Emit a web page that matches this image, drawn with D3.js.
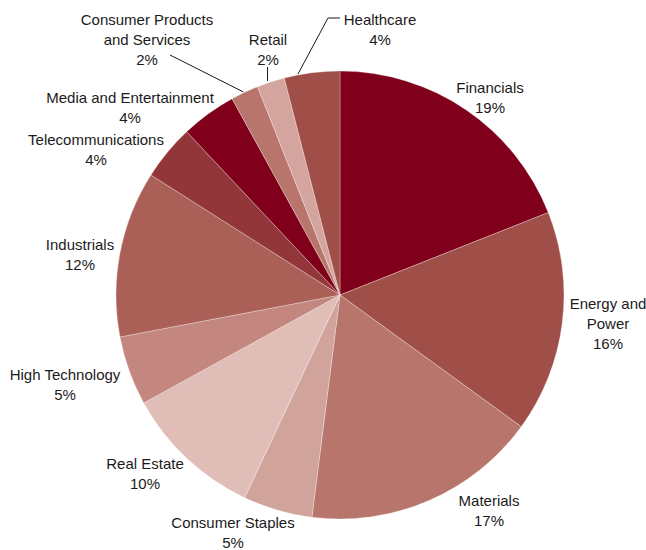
<!DOCTYPE html>
<html>
<head>
    <title>Sector Breakdown</title>
    <script src="https://d3js.org/d3.v7.min.js"></script>
    <style>
        body {
            margin: 0;
            padding: 0;
            background-color: #ffffff;
        }
        .lbl {
            font-family: "Liberation Sans", Arial, Helvetica, sans-serif;
            font-size: 15px;
            fill: #1c1a1a;
        }
    </style>
</head>
<body>
<div class="viz"></div>
<script>
    // Data
    var sectors = ["Financials", "Energy and Power", "Materials", "Consumer Staples",
                   "Real Estate", "High Technology", "Industrials", "Telecommunications",
                   "Media and Entertainment", "Consumer Products and Services", "Retail", "Healthcare"];
    var shares = [19, 16, 17, 5, 10, 5, 12, 4, 4, 2, 2, 4];
    var labelLines = [["Financials"], ["Energy and", "Power"], ["Materials"], ["Consumer Staples"],
                      ["Real Estate"], ["High Technology"], ["Industrials"], ["Telecommunications"],
                      ["Media and Entertainment"], ["Consumer Products", "and Services"], ["Retail"], ["Healthcare"]];

    var colors = ["#80001c", "#a04e48", "#b8756c", "#d0a39b", "#e0bdb6", "#c4877f",
                  "#ab6057", "#923639", "#80001c", "#b8756c", "#d4a59e", "#a04e48"];

    var width = 646,
        height = 550;
    var cx = 340, cy = 295, radius = 224;

    // label anchor (centre x, first baseline y), relative to pie centre
    var labelAt = [[150, -202], [268, 14], [149, 211], [-107, 233], [-195, 174], [-275, 85],
                   [-260, -45], [-244, -150], [-210, -192], [-193, -270], [-72, -250], [40, -270]];

    var svg = d3.select(".viz").append("svg")
        .attr("width", width)
        .attr("height", height);

    var g = svg.append("g")
        .attr("transform", "translate(" + cx + "," + cy + ")");

    var pie = d3.pie().sort(null).value(function(d){ return d; });
    var arcs = pie(shares);

    var arc = d3.arc().innerRadius(0).outerRadius(radius);

    g.selectAll("path")
        .data(arcs)
        .enter()
        .append("path")
        .attr("d", arc)
        .attr("fill", function(d, i){ return colors[i]; })
        .attr("stroke", "#ffffff")
        .attr("stroke-width", 0.3);

    // labels
    var lineH = 20;
    var labels = g.selectAll(".lbl")
        .data(arcs)
        .enter()
        .append("text")
        .attr("class", "lbl")
        .attr("text-anchor", "middle");

    labels.each(function(d, i){
        var t = d3.select(this);
        var lines = labelLines[i].concat([shares[i] + "%"]);
        lines.forEach(function(s, k){
            t.append("tspan")
                .attr("x", labelAt[i][0])
                .attr("y", labelAt[i][1] + k * lineH)
                .text(s);
        });
    });

    // leader lines for the small slices at the top
    function edge(i, frac){
        var a = arcs[i].startAngle + (arcs[i].endAngle - arcs[i].startAngle) * frac;
        return [Math.sin(a) * radius, -Math.cos(a) * radius];
    }
    var lead = g.append("g")
        .attr("fill", "none")
        .attr("stroke", "#1c1a1a")
        .attr("stroke-width", 1);

    var cp = edge(9, 0.45);
    lead.append("line")
        .attr("x1", -170).attr("y1", -240)
        .attr("x2", cp[0]).attr("y2", cp[1] - 1);

    var rt = edge(10, 0.5);
    lead.append("line")
        .attr("x1", -72.5).attr("y1", -228)
        .attr("x2", -72.5).attr("y2", rt[1] - 1);

    var hc = edge(11, 0.25);
    lead.append("polyline")
        .attr("points", [[hc[0], hc[1] - 1], [-12, -277], [0, -277]].join(" "));
</script>
</body>
</html>
